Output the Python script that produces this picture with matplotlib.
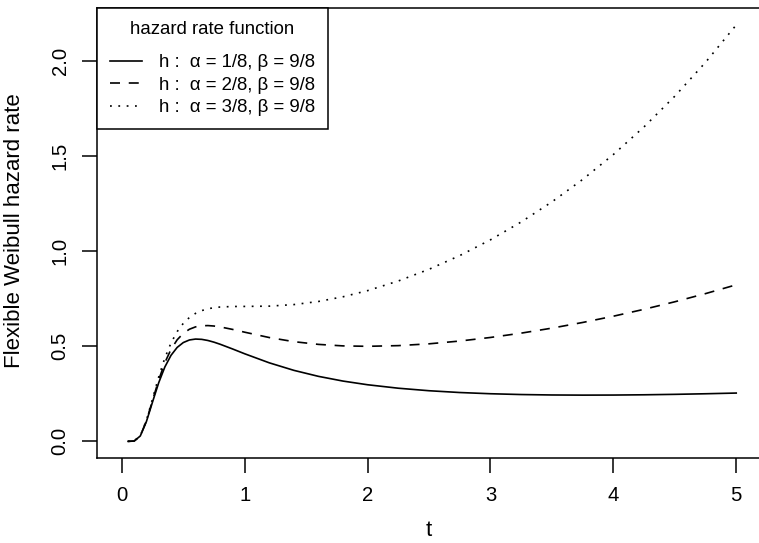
import matplotlib
matplotlib.use("Agg")
import matplotlib.pyplot as plt

plt.rcParams['font.family'] = ['Liberation Sans', 'DejaVu Sans']
plt.rcParams['lines.scale_dashes'] = False

# data
t = [0.05, 0.10, 0.15, 0.20, 0.25, 0.30, 0.35, 0.40, 0.45, 0.50, 0.55, 0.60,
     0.65, 0.70, 0.75, 0.80, 0.90, 1.00, 1.20, 1.40, 1.60, 1.80, 2.00, 2.25,
     2.50, 2.75, 3.00, 3.25, 3.50, 3.75, 4.00, 4.25, 4.50, 4.75, 5.00]
h1 = [0.0, 0.0015, 0.0283, 0.1045, 0.2077, 0.3082, 0.3908, 0.4518, 0.4933,
      0.5189, 0.5325, 0.5372, 0.5356, 0.5297, 0.5208, 0.5099, 0.4854, 0.4598,
      0.4123, 0.3728, 0.3413, 0.3165, 0.2972, 0.2790, 0.2658, 0.2564, 0.2500,
      0.2458, 0.2435, 0.2427, 0.2431, 0.2445, 0.2468, 0.2499, 0.2536]
h2 = [0.0, 0.0015, 0.0289, 0.1076, 0.2158, 0.3232, 0.4137, 0.4833, 0.5333,
      0.5673, 0.5889, 0.6013, 0.6070, 0.6080, 0.6056, 0.6010, 0.5880, 0.5732,
      0.5451, 0.5235, 0.5092, 0.5013, 0.4991, 0.5027, 0.5122, 0.5268, 0.5456,
      0.5683, 0.5946, 0.6243, 0.6572, 0.6935, 0.7330, 0.7759, 0.8222]
h3 = [0.0, 0.0015, 0.0295, 0.1108, 0.2242, 0.3388, 0.4380, 0.5168, 0.5763,
      0.6198, 0.6507, 0.6722, 0.6866, 0.6962, 0.7020, 0.7055, 0.7082, 0.7086,
      0.7101, 0.7183, 0.7346, 0.7593, 0.7916, 0.8422, 0.9037, 0.9757, 1.0585,
      1.1523, 1.2577, 1.3754, 1.5064, 1.6518, 1.8127, 1.9905, 2.1869]
labels = ["h :  α = 1/8, β = 9/8",
          "h :  α = 2/8, β = 9/8",
          "h :  α = 3/8, β = 9/8"]
xticks = [0, 1, 2, 3, 4, 5]
yticks = [0.0, 0.5, 1.0, 1.5, 2.0]
ytick_labels = ["0.0", "0.5", "1.0", "1.5", "2.0"]

W, H = 759, 543
fig = plt.figure(figsize=(W / 100, H / 100), dpi=100)
left, right, bottom, top = 97.3, 760.8, 458.0, 8.3
ax = fig.add_axes([left / W, 1 - bottom / H, (right - left) / W, (bottom - top) / H])

lw = 1.2
ax.plot(t, h1, color='black', lw=lw, linestyle='-', label=labels[0])
ax.plot(t, h2, color='black', lw=lw, linestyle=(0, (7.2, 6.3)), label=labels[1])
ax.plot(t, h3, color='black', lw=lw, linestyle=(0, (1.3, 4.7)), label=labels[2])

ax.set_xlim(-0.2, 5.2)
ax.set_ylim(-0.0875, 2.2744)
ax.set_xticks(xticks)
ax.set_yticks(yticks)
ax.set_yticklabels(ytick_labels)
fs_base = 13.44
fs_tick = 14.6
fs_lab = 16.0
ax.tick_params(axis='both', direction='out', length=10.8, width=1.1,
               labelsize=fs_tick, colors='black', pad=9.2)
ax.tick_params(axis='y', labelrotation=90)
for lab in ax.get_yticklabels():
    lab.set_va('center')
for s in ax.spines.values():
    s.set_linewidth(1.1)
    s.set_color('black')

ax.set_xlabel('t', fontsize=fs_lab, va='center')
ax.xaxis.set_label_coords(0.5, -(531 - bottom) / (bottom - top))
ax.set_ylabel('Flexible Weibull hazard rate', fontsize=fs_lab, va='center')
ax.yaxis.set_label_coords(-(left - 15) / (right - left), 0.505)

leg = ax.legend(loc='upper left', bbox_to_anchor=(0, 1), borderaxespad=0,
                title='hazard rate function', fontsize=fs_base,
                title_fontsize=fs_base,
                frameon=True, fancybox=False, edgecolor='black',
                handlelength=1.75, handletextpad=0.9, borderpad=0.66,
                labelspacing=0.295)
leg.get_frame().set_linewidth(1.1)
leg.get_frame().set_alpha(1)
try:
    leg._legend_box.sep = 11.9
except Exception:
    pass

fig.savefig('out.png', dpi=100)
